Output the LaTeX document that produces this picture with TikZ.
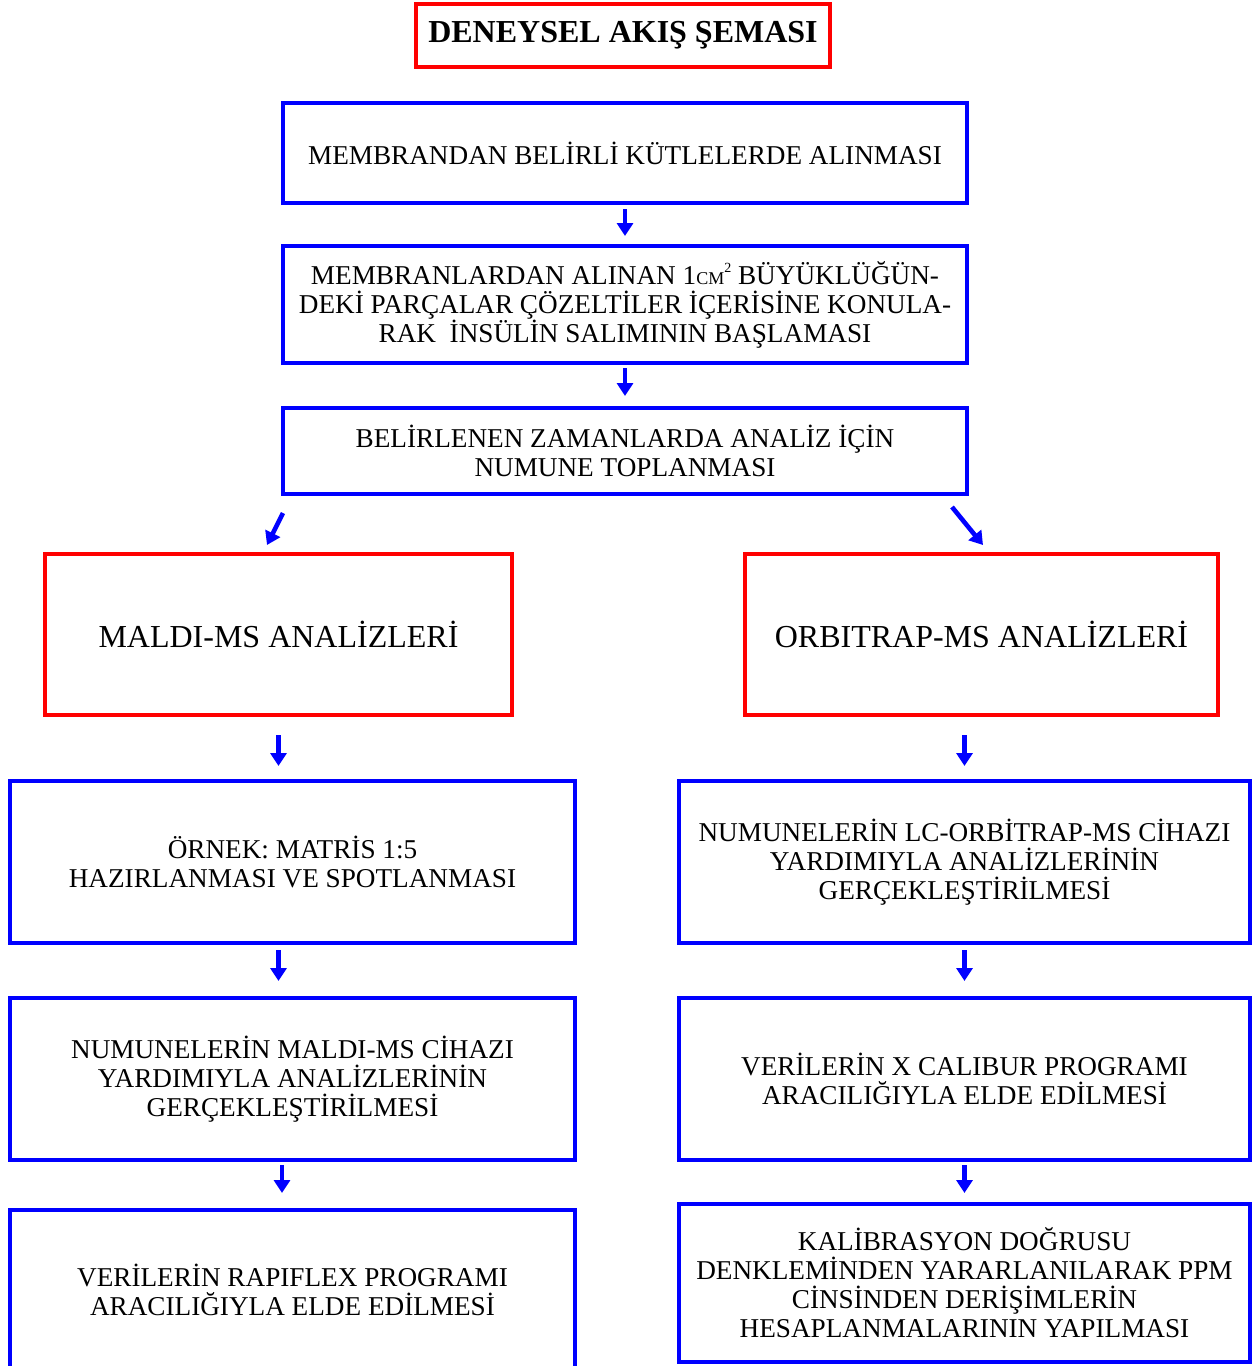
\documentclass[tikz,border=0pt]{standalone}
\usepackage{fontspec}
\setmainfont{Liberation Serif}
\usetikzlibrary{arrows.meta}
\newcommand\slabfont{\fontsize{13.6pt}{14.5pt}\selectfont}
\newcommand\headfont{\fontsize{16pt}{18pt}\selectfont}
\tikzset{
  bluebox/.style={draw=blue, line width=2pt, align=center, inner sep=0pt, font=\slabfont},
  redbox/.style={draw=red, line width=2pt, align=center, inner sep=0pt, font=\headfont},
  arr/.style={draw=blue, line width=2.3pt, -{Triangle[length=6.5pt,width=8pt]}},
}
\begin{document}
\begin{tikzpicture}[x=0.5pt,y=-0.5pt]
\useasboundingbox[fill=white] (0,0) rectangle (1258,1366);

\node[redbox, minimum width=207pt, minimum height=31.5pt, font=\headfont\bfseries] (title) at (623,35.5) {DENEYSEL AKIŞ ŞEMASI};

\node[bluebox, minimum width=342pt, minimum height=50pt] (b1) at (625,153) {MEMBRANDAN BELİRLİ KÜTLELERDE ALINMASI};
\node[bluebox, minimum width=342pt, minimum height=58.5pt] (b2) at (625,304.5) {MEMBRANLARDAN ALINAN 1{\fontsize{9pt}{10pt}\selectfont CM}\raisebox{0.9ex}{\fontsize{7pt}{8pt}\selectfont 2} BÜYÜKLÜĞÜN-\\DEKİ PARÇALAR ÇÖZELTİLER İÇERİSİNE KONULA-\\RAK \ İNSÜLİN SALIMININ BAŞLAMASI};
\node[bluebox, minimum width=342pt, minimum height=43pt] (b3) at (625,451) {BELİRLENEN ZAMANLARDA ANALİZ İÇİN\\NUMUNE TOPLANMASI};

\node[redbox, minimum width=233.5pt, minimum height=80.5pt] (maldi) at (278.5,634.5) {MALDI-MS ANALİZLERİ};
\node[redbox, minimum width=236.5pt, minimum height=80.5pt] (orbi) at (981.5,634.5) {ORBITRAP-MS ANALİZLERİ};

\node[bluebox, minimum width=282.5pt, minimum height=81pt] (L1) at (292.5,862) {ÖRNEK: MATRİS 1:5\\HAZIRLANMASI VE SPOTLANMASI};
\node[bluebox, minimum width=285.5pt, minimum height=81pt] (R1) at (964.5,862) {NUMUNELERİN LC-ORBİTRAP-MS CİHAZI\\YARDIMIYLA ANALİZLERİNİN\\GERÇEKLEŞTİRİLMESİ};
\node[bluebox, minimum width=282.5pt, minimum height=81pt] (L2) at (292.5,1079) {NUMUNELERİN MALDI-MS CİHAZI\\YARDIMIYLA ANALİZLERİNİN\\GERÇEKLEŞTİRİLMESİ};
\node[bluebox, minimum width=285.5pt, minimum height=81pt] (R2) at (964.5,1079) {VERİLERİN X CALIBUR PROGRAMI\\ARACILIĞIYLA ELDE EDİLMESİ};
\node[bluebox, minimum width=282.5pt, minimum height=80pt] (L3) at (292.5,1290) {VERİLERİN RAPIFLEX PROGRAMI\\ARACILIĞIYLA ELDE EDİLMESİ};
\node[bluebox, minimum width=285.5pt, minimum height=79pt] (R3) at (964.5,1283) {KALİBRASYON DOĞRUSU\\DENKLEMİNDEN YARARLANILARAK PPM\\CİNSİNDEN DERİŞİMLERİN\\HESAPLANMALARININ YAPILMASI};

\coordinate (dlA) at (283,513);
\coordinate (dlB) at (267,545);
\coordinate (drA) at (952,507);
\coordinate (drB) at (983,545);

\draw[arr, shorten <=2pt, shorten >=4pt] (b1) -- (b2);
\draw[arr, shorten <=1.5pt, shorten >=5pt] (b2) -- (b3);
\draw[arr] (dlA) -- (dlB);
\draw[arr] (drA) -- (drB);
\draw[arr, shorten <=9pt, shorten >=6.5pt] (maldi.south) -- (maldi.south |- L1.north);
\draw[arr, shorten <=9pt, shorten >=6.5pt] (R1.north |- orbi.south) -- (R1.north);
\draw[arr, shorten <=2.5pt, shorten >=7.5pt] (maldi.south |- L1.south) -- (maldi.south |- L2.north);
\draw[arr, shorten <=2.5pt, shorten >=7.5pt] (R1) -- (R2);
\draw[arr, shorten <=1.5pt, shorten >=7.5pt] ([xshift=-5.25pt]L2.south) -- ([xshift=-5.25pt]L3.north);
\draw[arr, shorten <=1.5pt, shorten >=4.5pt] (R2) -- (R3);
\end{tikzpicture}
\end{document}
